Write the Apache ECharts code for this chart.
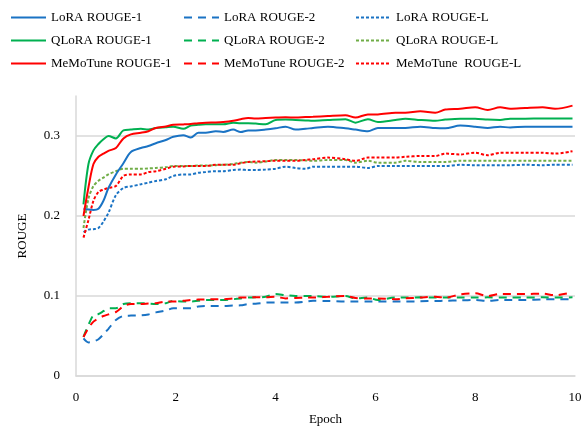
<!DOCTYPE html>
<html>
<head>
<meta charset="utf-8">
<script src="https://cdn.jsdelivr.net/npm/echarts@6/dist/echarts.min.js"></script>
<style>
html,body{margin:0;padding:0;background:#fff;}
#chart{width:584px;height:426px;}
</style>
</head>
<body>
<div id="chart"></div>
<script>
// epochs at which the runs were evaluated
var epochs = [0.15,0.25,0.35,0.45,0.55,0.65,0.8,0.95,1.1,1.3,1.45,1.6,1.8,1.95,2.15,2.3,2.45,2.6,2.8,2.95,3.15,3.3,3.45,3.6,3.8,4.0,4.2,4.4,4.6,4.75,5.05,5.4,5.6,5.85,6.05,6.4,6.6,6.9,7.2,7.4,7.7,8.0,8.25,8.5,8.7,9.0,9.35,9.6,9.95];

var loraR1 = [0.209,0.208,0.2075,0.209,0.219,0.235,0.252,0.266,0.280,0.285,0.2875,0.291,0.295,0.299,0.301,0.298,0.304,0.304,0.306,0.305,0.308,0.305,0.307,0.307,0.308,0.3096,0.3117,0.308,0.309,0.310,0.3117,0.3096,0.308,0.306,0.310,0.310,0.310,0.3117,0.310,0.3096,0.313,0.3117,0.310,0.3117,0.3105,0.3117,0.3117,0.3117,0.3117];
var loraR2 = [0.047,0.042,0.043,0.046,0.052,0.059,0.070,0.075,0.0755,0.0758,0.077,0.0795,0.082,0.0846,0.0846,0.0846,0.087,0.0875,0.0875,0.0875,0.088,0.0883,0.090,0.0904,0.0917,0.092,0.092,0.092,0.093,0.094,0.0937,0.093,0.093,0.093,0.093,0.093,0.093,0.0935,0.0937,0.094,0.0945,0.095,0.094,0.095,0.095,0.095,0.0958,0.0958,0.0958];
var loraRL = [0.180,0.183,0.1835,0.185,0.193,0.204,0.226,0.235,0.237,0.2396,0.2417,0.2437,0.246,0.250,0.252,0.252,0.254,0.255,0.256,0.256,0.2575,0.258,0.2575,0.2575,0.258,0.259,0.2617,0.260,0.259,0.2617,0.2617,0.2617,0.2617,0.260,0.2625,0.2625,0.2625,0.2625,0.2625,0.2625,0.264,0.2635,0.2635,0.2635,0.2635,0.264,0.2635,0.264,0.264];

var qloraR1 = [0.2146,0.265,0.282,0.290,0.296,0.300,0.297,0.307,0.308,0.309,0.308,0.310,0.311,0.3117,0.309,0.313,0.314,0.3146,0.3146,0.3146,0.3167,0.316,0.316,0.3155,0.3146,0.320,0.3205,0.320,0.3195,0.319,0.320,0.321,0.3167,0.321,0.3175,0.320,0.3217,0.320,0.319,0.3205,0.3217,0.3217,0.3205,0.320,0.3217,0.3217,0.322,0.322,0.322];
var qloraR2 = [0.049,0.064,0.076,0.0775,0.081,0.0846,0.0846,0.090,0.091,0.091,0.0905,0.090,0.091,0.094,0.093,0.093,0.094,0.095,0.095,0.095,0.096,0.097,0.098,0.0983,0.099,0.1025,0.101,0.100,0.100,0.100,0.099,0.100,0.097,0.098,0.095,0.098,0.098,0.0983,0.098,0.098,0.098,0.098,0.0983,0.098,0.098,0.098,0.0983,0.098,0.0983];
var qloraRL = [0.185,0.222,0.2375,0.244,0.248,0.252,0.256,0.259,0.259,0.259,0.2595,0.260,0.261,0.2625,0.2625,0.2625,0.263,0.263,0.2635,0.264,0.265,0.2667,0.2675,0.2667,0.268,0.270,0.270,0.270,0.2695,0.269,0.270,0.270,0.2667,0.269,0.2667,0.2667,0.269,0.2675,0.2675,0.2675,0.269,0.269,0.269,0.269,0.269,0.269,0.269,0.269,0.269];

var memoR1 = [0.200,0.236,0.265,0.274,0.278,0.2815,0.285,0.297,0.302,0.304,0.306,0.310,0.312,0.314,0.3145,0.315,0.316,0.3167,0.317,0.3175,0.319,0.321,0.3225,0.322,0.3225,0.323,0.3235,0.323,0.3237,0.324,0.325,0.326,0.323,0.327,0.327,0.329,0.329,0.331,0.329,0.333,0.334,0.336,0.3325,0.336,0.334,0.335,0.336,0.334,0.338];
var memoR2 = [0.0487,0.060,0.068,0.072,0.075,0.077,0.080,0.087,0.090,0.090,0.0905,0.091,0.093,0.093,0.094,0.095,0.0955,0.0958,0.096,0.096,0.097,0.098,0.0983,0.0985,0.0983,0.099,0.097,0.0975,0.098,0.098,0.099,0.100,0.0975,0.097,0.097,0.096,0.097,0.098,0.099,0.098,0.102,0.1033,0.100,0.1025,0.1025,0.1025,0.103,0.101,0.1046];
var memoRL = [0.173,0.195,0.219,0.230,0.233,0.235,0.2375,0.250,0.252,0.252,0.255,0.256,0.259,0.2617,0.262,0.2625,0.2625,0.2625,0.264,0.264,0.264,0.266,0.2675,0.268,0.2685,0.269,0.269,0.269,0.270,0.271,0.273,0.271,0.269,0.273,0.273,0.273,0.274,0.275,0.275,0.278,0.277,0.279,0.276,0.279,0.279,0.279,0.279,0.278,0.281];

var xTicks = [0, 2, 4, 6, 8, 10];
var yTicks = [0, 0.1, 0.2, 0.3];

var BLUE = '#1a73c4', GREEN = '#00b050', LIGHTGREEN = '#70ad47', RED = '#ff0000';
var FONT = '"Liberation Serif", "Times New Roman", serif';

function pairs(vals){
    return epochs.map(function(e, i){ return [e, vals[i]]; });
}

function line(name, vals, color, type){
    var dash = type === 'dashed' ? [8, 6] : (type === 'dotted' ? [3, 2] : 'solid');
    return {
        name: name,
        type: 'line',
        data: pairs(vals),
        smooth: 0.3,
        symbol: 'none',
        showSymbol: false,
        lineStyle: { color: color, width: 2, type: dash },
        itemStyle: { color: color },
        z: type === 'solid' ? 3 : 2
    };
}

var series = [
    line('LoRA ROUGE-1', loraR1, BLUE, 'solid'),
    line('LoRA ROUGE-2', loraR2, BLUE, 'dashed'),
    line('LoRA ROUGE-L', loraRL, BLUE, 'dotted'),
    line('QLoRA ROUGE-1', qloraR1, GREEN, 'solid'),
    line('QLoRA ROUGE-2', qloraR2, GREEN, 'dashed'),
    line('QLoRA ROUGE-L', qloraRL, LIGHTGREEN, 'dotted'),
    line('MeMoTune ROUGE-1', memoR1, RED, 'solid'),
    line('MeMoTune ROUGE-2', memoR2, RED, 'dashed'),
    line('MeMoTune  ROUGE-L', memoRL, RED, 'dotted')
];

function legendCol(left, names){
    return {
        left: left,
        top: 11,
        padding: 0,
        orient: 'horizontal',
        width: 10,
        itemWidth: 35,
        itemHeight: 14,
        itemGap: 10,
        itemStyle: { opacity: 0 },
        textStyle: { fontFamily: FONT, fontSize: 13, color: '#000' },
        data: names
    };
}

var chart = echarts.init(document.getElementById('chart'), null, { renderer: 'canvas' });
chart.setOption({
    animation: false,
    backgroundColor: '#fff',
    legend: [
        legendCol(10, ['LoRA ROUGE-1', 'QLoRA ROUGE-1', 'MeMoTune ROUGE-1']),
        legendCol(183, ['LoRA ROUGE-2', 'QLoRA ROUGE-2', 'MeMoTune ROUGE-2']),
        legendCol(355, ['LoRA ROUGE-L', 'QLoRA ROUGE-L', 'MeMoTune  ROUGE-L'])
    ],
    grid: { left: 76, right: 9, top: 96, bottom: 50, containLabel: false, outerBoundsMode: 'none' },
    xAxis: {
        type: 'value',
        min: xTicks[0],
        max: xTicks[xTicks.length - 1],
        interval: 2,
        name: 'Epoch',
        nameLocation: 'middle',
        nameGap: 37,
        nameTextStyle: { fontFamily: FONT, fontSize: 13, color: '#000' },
        axisLine: { lineStyle: { color: '#d9d9d9', width: 1.5 } },
        axisTick: { show: false },
        splitLine: { show: false },
        axisLabel: { fontFamily: FONT, fontSize: 13, color: '#000', margin: 15 }
    },
    yAxis: {
        type: 'value',
        min: yTicks[0],
        max: 0.35,
        interval: 0.1,
        name: 'ROUGE',
        nameLocation: 'middle',
        nameGap: 47,
        nameTextStyle: { fontFamily: FONT, fontSize: 13, color: '#000' },
        axisLine: { show: true, lineStyle: { color: '#d9d9d9', width: 1.5 } },
        axisTick: { show: false },
        splitLine: { show: true, showMaxLine: false, lineStyle: { color: '#d9d9d9', width: 1.5 } },
        axisLabel: { fontFamily: FONT, fontSize: 13, color: '#000', margin: 16, showMaxLabel: false }
    },
    series: series
});
</script>
</body>
</html>
